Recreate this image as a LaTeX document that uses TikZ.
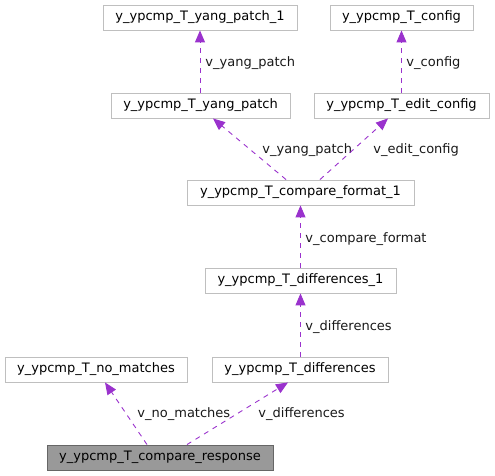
\documentclass[tikz,border=0pt]{standalone}
\usepackage{fontspec}
\setmainfont{DejaVu Sans}
\usetikzlibrary{arrows.meta}
\definecolor{edgepurple}{HTML}{9A32CD}
\definecolor{boxgray}{HTML}{BFBFBF}
\definecolor{rootfill}{HTML}{999999}
\definecolor{rootdraw}{HTML}{666666}

\begin{document}
\begin{tikzpicture}[x=1pt,y=1pt,font=\fontsize{13}{15}\selectfont,
    class node/.style={rectangle,draw=boxgray,line width=0.9pt,minimum height=25pt,inner sep=0pt},
    root node/.style={class node,fill=rootfill,draw=rootdraw},
    rel/.style={edgepurple,dash pattern=on 5pt off 5pt,line width=0.9pt,-{Triangle[length=12pt,width=10pt]}},
    lbl/.style={anchor=west,inner sep=0pt,text=black!90}]

            \useasboundingbox (0,0) rectangle (495,476);

            \node[root node, minimum width=226pt] (resp) at (160,18.5) {y\_ypcmp\_T\_compare\_response};
            \node[class node, minimum width=182pt] (nomatch) at (96,106.5) {y\_ypcmp\_T\_no\_matches};
            \node[class node, minimum width=176pt] (diffs) at (300,106.5) {y\_ypcmp\_T\_differences};
            \node[class node, minimum width=191pt] (diffs1) at (300.5,195.5) {y\_ypcmp\_T\_differences\_1};
            \node[class node, minimum width=227pt] (cfmt1) at (300.5,283.5) {y\_ypcmp\_T\_compare\_format\_1};
            \node[class node, minimum width=179pt] (ypatch) at (200.5,370.5) {y\_ypcmp\_T\_yang\_patch};
            \node[class node, minimum width=175pt] (econf) at (401.5,370.5) {y\_ypcmp\_T\_edit\_config};
            \node[class node, minimum width=194pt] (ypatch1) at (200,458.5) {y\_ypcmp\_T\_yang\_patch\_1};
            \node[class node, minimum width=143pt] (conf) at (401.5,458.5) {y\_ypcmp\_T\_config};

            % usage links, from user up to used type
            \draw[rel] ([xshift=-13pt]resp.north) -- ([xshift=9pt]nomatch.south)
                node[lbl] at (137,62) {v\_no\_matches};
            \draw[rel] ([xshift=27pt]resp.north) -- ([xshift=-12pt]diffs.south)
                node[lbl] at (258,62) {v\_differences};
            \draw[rel] ([xshift=0.5pt]diffs.north) -- (diffs1.south)
                node[lbl] at (305,149) {v\_differences};
            \draw[rel] (diffs1.north) -- (cfmt1.south)
                node[lbl] at (305,237) {v\_compare\_format};
            \draw[rel] ([xshift=-14.5pt]cfmt1.north) -- ([xshift=12.5pt]ypatch.south)
                node[lbl] at (262,326) {v\_yang\_patch};
            \draw[rel] ([xshift=19.5pt]cfmt1.north) -- ([xshift=-13.5pt]econf.south)
                node[lbl] at (373,326) {v\_edit\_config};
            \draw[rel] ([xshift=-0.5pt]ypatch.north) -- (ypatch1.south)
                node[lbl] at (205,413) {v\_yang\_patch};
            \draw[rel] (econf.north) -- (conf.south)
                node[lbl] at (406,413) {v\_config};
\end{tikzpicture}
\end{document}
